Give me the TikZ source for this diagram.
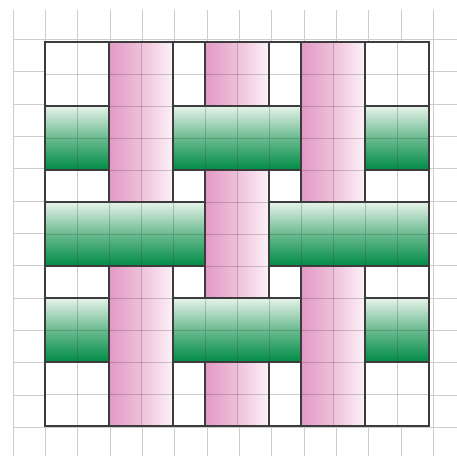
\documentclass[tikz,border=0pt]{standalone}
\usepackage{xcolor}
\definecolor{Rose}{HTML}{E399C5}
\definecolor{RoseMid}{HTML}{EEC0DA}
\definecolor{RosePale}{HTML}{FCF2F8}
\definecolor{Forest}{HTML}{008A47}
\definecolor{ForestMid}{HTML}{6ABB8F}
\definecolor{Mint}{HTML}{E6F2EA}
\definecolor{Ink}{HTML}{3C3C3C}
\definecolor{GridGray}{HTML}{CDCDCD}
\colorlet{rose}{Rose}
\colorlet{palerose}{RosePale}
\colorlet{forest}{Forest}
\colorlet{mint}{Mint}
\colorlet{ink}{Ink}
\usepackage{tikz}

\begin{document}
\begin{tikzpicture}[x=1pt,y=-1pt,
  gridline/.style={draw=GridGray,line width=1pt},
  cellline/.style={draw=ink,opacity=.25,line width=.8pt},
  pinkstrip/.style={left color=rose,right color=palerose,middle color=RoseMid,draw=ink,line width=1.6pt},
  greenstrip/.style={top color=mint,bottom color=forest,middle color=ForestMid,draw=ink,line width=1.6pt}]
\useasboundingbox (0,0) rectangle (457,456);
\fill[white] (0,0) rectangle (457,456);
\foreach \k in {0,...,13} \draw[gridline] ({13+32.35*\k},10) -- ({13+32.35*\k},456);
\foreach \k in {0,...,12} \draw[gridline] (13,{39.3+32.35*\k}) -- (457,{39.3+32.35*\k});
\fill[white] (45,42) rectangle (429,426);
\foreach \c in {2,5,8} \path[pinkstrip] ({45+32*\c},42) rectangle ({109+32*\c},426);
\foreach \r/\a/\b in {2/0/2,2/4/8,2/10/12,5/0/5,5/7/12,8/0/2,8/4/8,8/10/12}
  \path[greenstrip] ({45+32*\a},{42+32*\r}) rectangle ({45+32*\b},{106+32*\r});
\foreach \c in {1,...,11} {\draw[cellline] ({45+32*\c},42) -- ({45+32*\c},426);
  \draw[cellline] (45,{42+32*\c}) -- (429,{42+32*\c});}
\draw[ink,line width=1.8pt] (45,42) rectangle (429,426);
\end{tikzpicture}
\end{document}
